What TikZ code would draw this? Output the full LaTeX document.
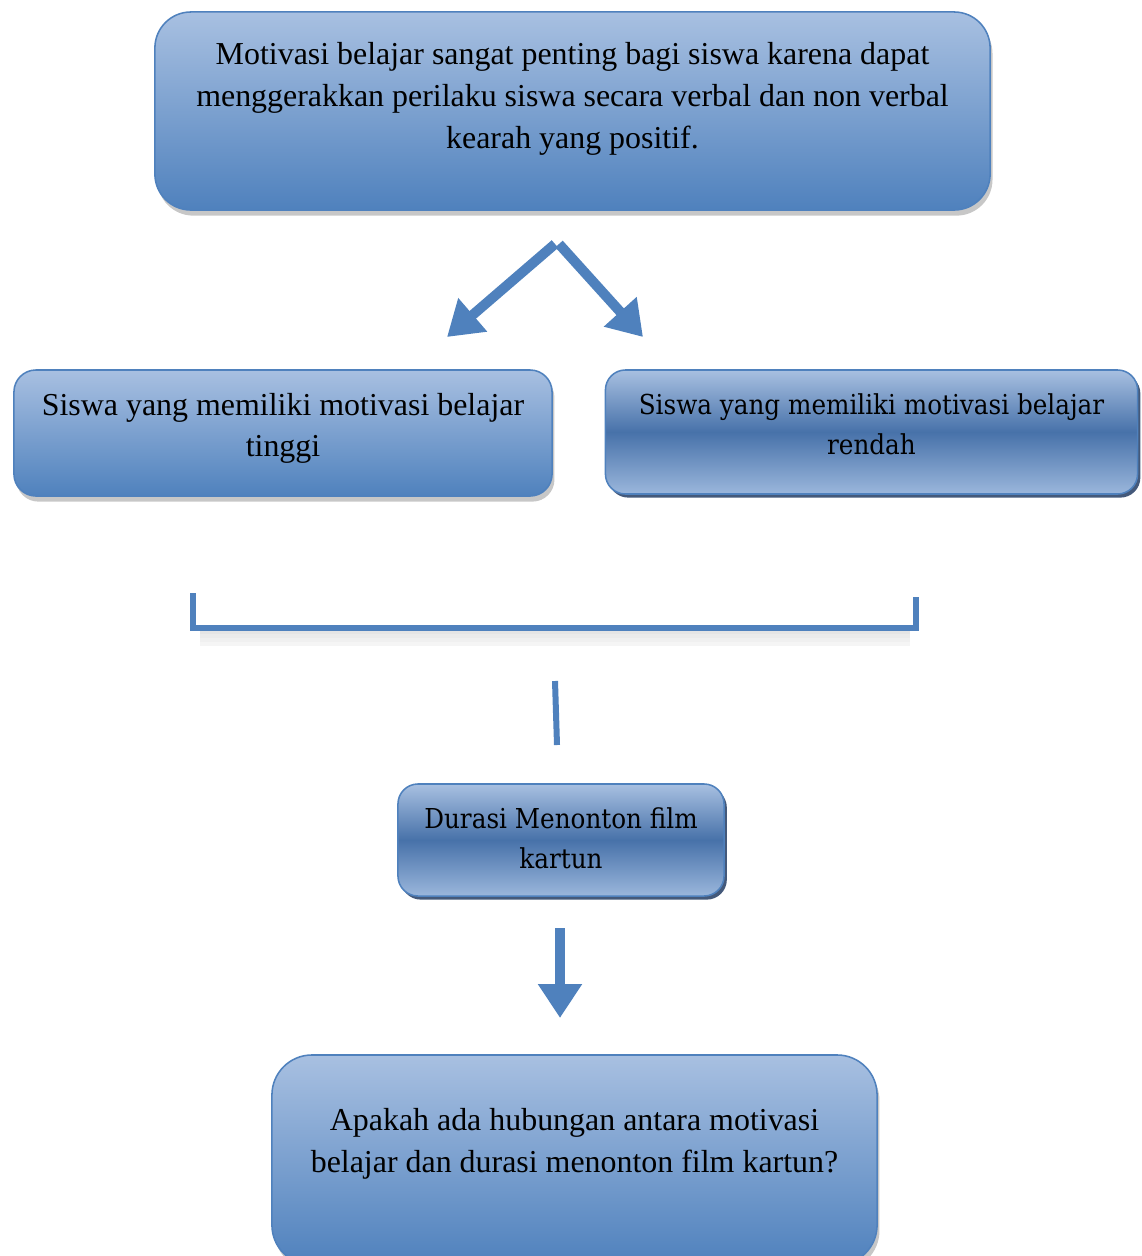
\documentclass[tikz,border=0pt]{standalone}
\usepackage{fontspec}
\setmainfont{Liberation Serif}
\newfontfamily\cambria[FakeStretch=0.9]{DejaVu Serif}
\usepackage{tikz}
\usetikzlibrary{arrows.meta,shadows,positioning}
\definecolor{wordblue}{HTML}{4F81BD}
\definecolor{wordlight}{HTML}{A8C0E1}
\definecolor{worddeep}{HTML}{466FA6}
\definecolor{wordedge}{HTML}{44597A}

\begin{document}
\begin{tikzpicture}[x=0.025cm, y=-0.025cm]
\tikzset{box/.style={draw=wordblue, line width=1.1pt, inner sep=0pt},
  softshadow/.style={drop shadow={shadow xshift=0.06cm, shadow yshift=-0.14cm, opacity=0.22, fill=black}},
  edgeshadow/.style={drop shadow={shadow xshift=0.07cm, shadow yshift=-0.09cm, opacity=1, fill=wordedge}},
  flatbox/.style={box, rounded corners=0.9cm, top color=wordlight, bottom color=wordblue},
  glossbox/.style={box, rounded corners=0.5cm, top color=wordlight, bottom color=wordlight!85!wordblue, middle color=worddeep!85!wordblue},
  timestext/.style={align=center, font=\fontsize{22.7}{30}\selectfont},
  cambriatext/.style={align=center, font=\cambria\fontsize{19.5}{28.5}\selectfont},
  blueline/.style={draw=wordblue, line width=0.15cm},
  bluearrow/.style={draw=wordblue, line width=0.25cm, -{Triangle[length=0.85cm, width=1.05cm]}}}

\useasboundingbox (0,0) rectangle (1142,1256);
\clip (0,0) rectangle (1142,1256);

\node[flatbox, softshadow, minimum width=20.875cm, minimum height=4.95cm] (motivasi) at (572.5,111) {};
\node[timestext] (motivasitext) at (572.5,99) {Motivasi belajar sangat penting bagi siswa karena dapat\\menggerakkan perilaku siswa secara verbal dan non verbal\\kearah yang positif.};

\coordinate (split) at (557,244);
\coordinate (tiptinggi) at (447,337);
\coordinate (tiprendah) at (643,337);
\draw[bluearrow] ([xshift=-0.05cm]split) -- (tiptinggi);
\draw[bluearrow] ([xshift=0.05cm]split) -- (tiprendah);

\node[flatbox, softshadow, rounded corners=0.55cm, minimum width=13.45cm, minimum height=3.15cm] (tinggi) at (283,433) {};
\node[timestext, font=\fontsize{22.7}{29}\selectfont] (tinggitext) at (283,428) {Siswa yang memiliki motivasi belajar\\tinggi};

\node[glossbox, edgeshadow, minimum width=13.3cm, minimum height=3.1cm] (rendah) at (871.5,432) {};
\node[cambriatext] (rendahtext) at (871.5,424) {Siswa yang memiliki motivasi belajar\\rendah};

% garis penghubung
\foreach \d/\o in {4/0.10,8/0.08,12/0.06,16/0.04}
  \draw[black, line width=0.1cm, opacity=\o] (200,628+\d) -- (910,628+\d);
\draw[blueline] (193,593) -- (193,628) -- (916,628) -- (916,597);
\draw[blueline] (555,681) -- (557,745);

\node[glossbox, edgeshadow, minimum width=8.15cm, minimum height=2.8cm] (durasi) at (561,840) {};
\node[cambriatext] (durasitext) at (561,838) {Durasi Menonton film\\kartun};

\coordinate (durasiout) at (560,928);
\coordinate (tipakhir) at (560,1018);
\draw[bluearrow] (durasiout) -- (tipakhir);

\node[flatbox, softshadow, rounded corners=1cm, minimum width=15.125cm, minimum height=5.25cm] (hubungan) at (574.5,1160) {};
\node[timestext] (hubungantext) at (574.5,1144) {Apakah ada hubungan antara motivasi\\belajar dan durasi menonton film kartun?};
\end{tikzpicture}
\end{document}
